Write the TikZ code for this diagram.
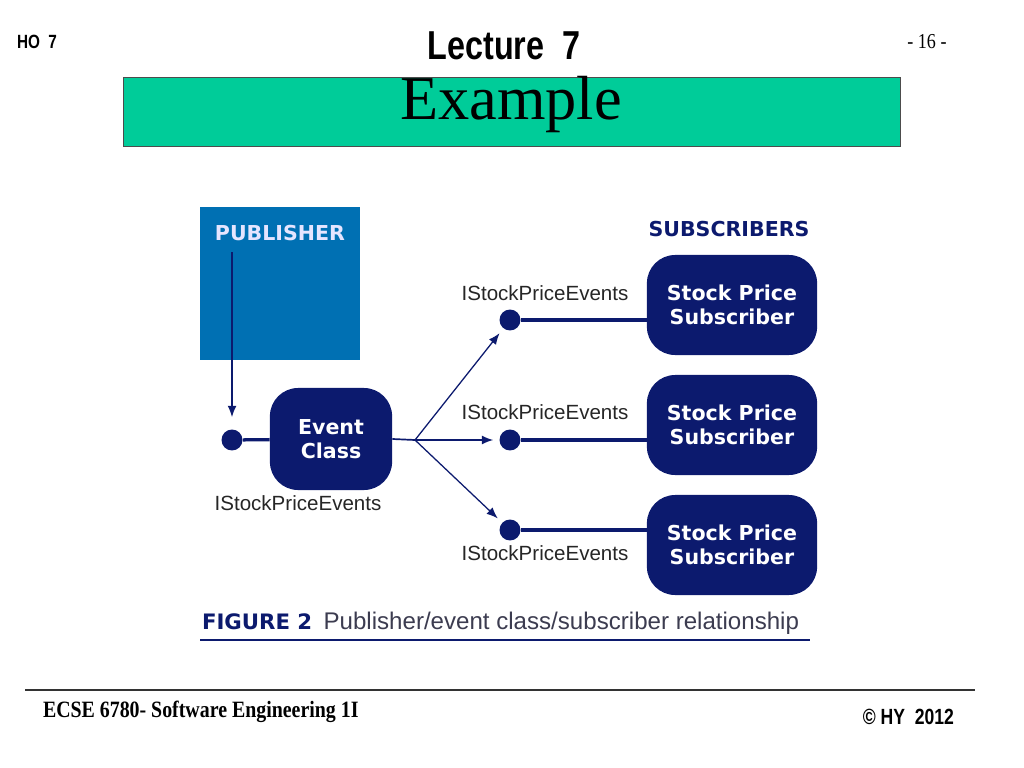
\documentclass[tikz,border=0pt]{standalone}
\usepackage{fontspec}
\setmainfont{Liberation Serif}
\newfontfamily\arialfont{Liberation Sans}
\newfontfamily\narrowfont[FakeStretch=0.8]{Liberation Sans}
\newfontfamily\narrowserif[FakeStretch=0.85]{Liberation Serif}
\newfontfamily\verdfont{DejaVu Sans}
\usetikzlibrary{arrows.meta, positioning}

\definecolor{slidegreen}{RGB}{0,204,153}
\definecolor{pubblue}{RGB}{0,112,179}
\definecolor{navy}{RGB}{12,26,110}
\definecolor{capgray}{RGB}{60,60,80}

\begin{document}
\begin{tikzpicture}[
    x=0.0248cm, y=-0.0248cm,
    headtext/.style={font=\narrowfont\bfseries\fontsize{13.5}{15}\selectfont},
    bluebox/.style={rectangle, fill=pubblue, minimum width=3.97cm, minimum height=3.79cm},
    navybox/.style={rectangle, fill=navy, rounded corners=0.7cm, text=white, align=center, font=\verdfont\bfseries\fontsize{14.5}{17}\selectfont},
    port/.style={circle, fill=navy, inner sep=0pt, minimum size=0.52cm},
    portlabel/.style={font=\arialfont\fontsize{14.5}{16}\selectfont, text=black!85},
    wire/.style={navy, line width=2.3pt},
    arrow/.style={-{Latex[length=2.8mm, width=2.2mm]}, navy, line width=0.9pt, shorten >=0.15cm}
]
\useasboundingbox (0,0) rectangle (1024,768);

% Header
\node[headtext, anchor=west] (ho) at (12,42) {HO\ \ 7};
\node[font=\narrowfont\bfseries\fontsize{28.5}{31}\selectfont] (lecture) at (504,46) {Lecture\ \ 7};
\node[font=\narrowserif\fontsize{15}{17}\selectfont] (pagenum) at (927,42) {- 16 -};

% Title bar
\node[rectangle, draw=black!70, fill=slidegreen, minimum width=19.27cm, minimum height=1.71cm] (titlebox) at (511.5,111.5) {};
\node[font=\fontsize{44}{48}\selectfont] (title) at (511,105) {Example};

% Publisher
\node[bluebox] (publisher) at (280,283.5) {};
\node[font=\verdfont\bfseries\fontsize{14.5}{16}\selectfont, text=white!90!blue] (pubtitle) at (280,233) {PUBLISHER};
\coordinate (pubsrc) at (232,252);

% Event class
\node[port] (pubport) at (232,440) {};
\node[navybox, minimum width=3.03cm, minimum height=2.53cm] (evclass) at (331,439) {Event\\Class};
\node[portlabel] (publabel) at (298,503) {IStockPriceEvents};
\coordinate (fork) at (415,440);

% Subscribers
\node[font=\verdfont\bfseries\fontsize{14.5}{16}\selectfont, text=navy] (subhead) at (729,229) {SUBSCRIBERS};
\node[navybox, minimum width=4.22cm, minimum height=2.48cm] (sub1) at (732,305) {Stock Price\\Subscriber};
\node[navybox, minimum width=4.22cm, minimum height=2.48cm] (sub2) at (732,425) {Stock Price\\Subscriber};
\node[navybox, minimum width=4.22cm, minimum height=2.48cm] (sub3) at (732,545) {Stock Price\\Subscriber};

\node[port] (port1) at (510,320) {};
\node[port] (port2) at (510,440) {};
\node[port] (port3) at (510,530) {};
\node[portlabel] (label1) at (545,293) {IStockPriceEvents};
\node[portlabel] (label2) at (545,412) {IStockPriceEvents};
\node[portlabel] (label3) at (545,553) {IStockPriceEvents};

% Connections
\draw[arrow, shorten >=0.3cm] (pubsrc) -- (pubport);
\draw[wire] (pubport) -- (evclass);
\draw[navy, line width=1.2pt] (evclass.east) -- (fork);
\draw[arrow] (fork) -- (port1);
\draw[arrow] (fork) -- (port2);
\draw[arrow] (fork) -- (port3);
\draw[wire] (port1) -- (port1 -| sub1.west);
\draw[wire] (port2) -- (port2 -| sub2.west);
\draw[wire] (port3) -- (port3 -| sub3.west);

% Caption
\node[anchor=west, font=\arialfont\fontsize{17}{19}\selectfont, text=capgray] (caption) at (197,623)
    {{\verdfont\bfseries\fontsize{15}{17}\selectfont\color{navy}FIGURE 2}\hspace{8pt}Publisher/event class/subscriber relationship};
\draw[navy, line width=1pt] (200,640) -- (810,640);

% Footer
\draw[black!80, line width=1.4pt] (25,690) -- (975,690);
\node[anchor=west, font=\narrowserif\bfseries\fontsize{16.5}{18}\selectfont] (course) at (38,712) {ECSE 6780- Software Engineering 1I};
\node[anchor=east, font=\narrowfont\bfseries\fontsize{15.5}{17}\selectfont] (copy) at (959,717) {\textcopyright\ HY\ \ 2012};
\end{tikzpicture}
\end{document}
